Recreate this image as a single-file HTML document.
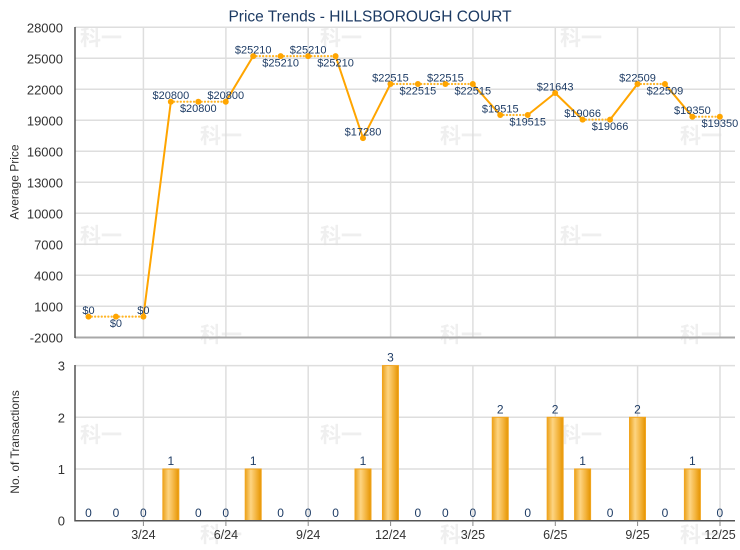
<!DOCTYPE html>
<html><head><meta charset="utf-8"><style>
html,body{margin:0;padding:0;background:#fff;}
svg{display:block;}
text{font-family:"Liberation Sans",Arial,sans-serif;}
.wm{font-family:"Noto Sans CJK SC","WenQuanYi Zen Hei",sans-serif;font-weight:bold;font-size:21px;fill:#efefef;}
.yt{font-size:13px;fill:#333;text-anchor:end;}
.dl{font-size:11px;fill:#1f3d66;text-anchor:middle;}
.bl{font-size:12px;fill:#1f3d66;text-anchor:middle;}
.xl{font-size:12.5px;fill:#333;text-anchor:middle;}
</style></head><body>
<svg width="740" height="550" viewBox="0 0 740 550" xmlns="http://www.w3.org/2000/svg">
<defs>
<linearGradient id="bg" x1="0" y1="0" x2="1" y2="0">
<stop offset="0" stop-color="#eba21c"/>
<stop offset="0.35" stop-color="#fdd482"/>
<stop offset="0.7" stop-color="#f3b33c"/>
<stop offset="1" stop-color="#e59400"/>
</linearGradient>
</defs>
<rect width="740" height="550" fill="#fff"/>
<g id="wm">
<text class="wm" x="80" y="45">科一</text>
<text class="wm" x="320" y="45">科一</text>
<text class="wm" x="560" y="45">科一</text>
<text class="wm" x="200" y="143">科一</text>
<text class="wm" x="440" y="143">科一</text>
<text class="wm" x="680" y="143">科一</text>
<text class="wm" x="80" y="243">科一</text>
<text class="wm" x="320" y="243">科一</text>
<text class="wm" x="560" y="243">科一</text>
<text class="wm" x="200" y="342">科一</text>
<text class="wm" x="440" y="342">科一</text>
<text class="wm" x="680" y="342">科一</text>
<text class="wm" x="80" y="442">科一</text>
<text class="wm" x="320" y="442">科一</text>
<text class="wm" x="560" y="442">科一</text>
<text class="wm" x="200" y="542">科一</text>
<text class="wm" x="440" y="542">科一</text>
<text class="wm" x="680" y="542">科一</text>
</g>
<text x="370" y="21.5" text-anchor="middle" style="font-size:15.5px;fill:#1c3a63">Price Trends - HILLSBOROUGH COURT</text>
<!-- top grid -->
<g stroke="#dedede" stroke-width="1.5" fill="none">
<line x1="75" y1="27.3" x2="735" y2="27.3"/>
<line x1="75" y1="58.3" x2="735" y2="58.3"/>
<line x1="75" y1="89.3" x2="735" y2="89.3"/>
<line x1="75" y1="120.3" x2="735" y2="120.3"/>
<line x1="75" y1="151.3" x2="735" y2="151.3"/>
<line x1="75" y1="182.3" x2="735" y2="182.3"/>
<line x1="75" y1="213.3" x2="735" y2="213.3"/>
<line x1="75" y1="244.3" x2="735" y2="244.3"/>
<line x1="75" y1="275.3" x2="735" y2="275.3"/>
<line x1="75" y1="306.3" x2="735" y2="306.3"/>
<line x1="143.4" y1="27" x2="143.4" y2="337"/>
<line x1="225.9" y1="27" x2="225.9" y2="337"/>
<line x1="308.2" y1="27" x2="308.2" y2="337"/>
<line x1="390.6" y1="27" x2="390.6" y2="337"/>
<line x1="472.9" y1="27" x2="472.9" y2="337"/>
<line x1="555.3" y1="27" x2="555.3" y2="337"/>
<line x1="637.6" y1="27" x2="637.6" y2="337"/>
<line x1="720" y1="27" x2="720" y2="337"/>
</g>
<line x1="75" y1="337.5" x2="735" y2="337.5" stroke="#a8a8a8" stroke-width="2"/>
<line x1="75" y1="27" x2="75" y2="338" stroke="#555" stroke-width="1.5"/>
<g class="yt">
<text class="yt" x="63" y="32.3">28000</text>
<text class="yt" x="63" y="63.3">25000</text>
<text class="yt" x="63" y="94.3">22000</text>
<text class="yt" x="63" y="125.3">19000</text>
<text class="yt" x="63" y="156.3">16000</text>
<text class="yt" x="63" y="187.3">13000</text>
<text class="yt" x="63" y="218.3">10000</text>
<text class="yt" x="63" y="249.3">7000</text>
<text class="yt" x="63" y="280.3">4000</text>
<text class="yt" x="63" y="311.3">1000</text>
<text class="yt" x="63" y="342.3">-2000</text>
</g>
<text transform="translate(18.5,182) rotate(-90)" text-anchor="middle" style="font-size:12px;fill:#333">Average Price</text>
<!-- line series -->
<g fill="none" stroke-linecap="round">
<g stroke="#ffb526" stroke-width="2.2" stroke-dasharray="0.1 3.2">
<line x1="88.5" y1="316.6" x2="115.95" y2="316.6"/>
<line x1="115.95" y1="316.6" x2="143.4" y2="316.6"/>
<line x1="170.85" y1="101.7" x2="198.3" y2="101.7"/>
<line x1="198.3" y1="101.7" x2="225.75" y2="101.7"/>
<line x1="253.2" y1="56.1" x2="280.65" y2="56.1"/>
<line x1="280.65" y1="56.1" x2="308.1" y2="56.1"/>
<line x1="308.1" y1="56.1" x2="335.55" y2="56.1"/>
<line x1="390.45" y1="84" x2="417.9" y2="84"/>
<line x1="417.9" y1="84" x2="445.35" y2="84"/>
<line x1="445.35" y1="84" x2="472.8" y2="84"/>
<line x1="500.25" y1="115" x2="527.7" y2="115"/>
<line x1="582.6" y1="119.6" x2="610.05" y2="119.6"/>
<line x1="637.5" y1="84" x2="664.95" y2="84"/>
<line x1="692.4" y1="116.7" x2="719.85" y2="116.7"/>
</g>
<g stroke="#ffa500" stroke-width="2">
<line x1="143.4" y1="316.6" x2="170.85" y2="101.7"/>
<line x1="225.75" y1="101.7" x2="253.2" y2="56.1"/>
<line x1="335.55" y1="56.1" x2="363" y2="138.1"/>
<line x1="363" y1="138.1" x2="390.45" y2="84"/>
<line x1="472.8" y1="84" x2="500.25" y2="115"/>
<line x1="527.7" y1="115" x2="555.15" y2="93"/>
<line x1="555.15" y1="93" x2="582.6" y2="119.6"/>
<line x1="610.05" y1="119.6" x2="637.5" y2="84"/>
<line x1="664.95" y1="84" x2="692.4" y2="116.7"/>
</g>
</g>
<g fill="#ffa500">
<circle cx="88.5" cy="316.6" r="3"/>
<circle cx="115.95" cy="316.6" r="3"/>
<circle cx="143.4" cy="316.6" r="3"/>
<circle cx="170.85" cy="101.7" r="3"/>
<circle cx="198.3" cy="101.7" r="3"/>
<circle cx="225.75" cy="101.7" r="3"/>
<circle cx="253.2" cy="56.1" r="3"/>
<circle cx="280.65" cy="56.1" r="3"/>
<circle cx="308.1" cy="56.1" r="3"/>
<circle cx="335.55" cy="56.1" r="3"/>
<circle cx="363" cy="138.1" r="3"/>
<circle cx="390.45" cy="84" r="3"/>
<circle cx="417.9" cy="84" r="3"/>
<circle cx="445.35" cy="84" r="3"/>
<circle cx="472.8" cy="84" r="3"/>
<circle cx="500.25" cy="115" r="3"/>
<circle cx="527.7" cy="115" r="3"/>
<circle cx="555.15" cy="93" r="3"/>
<circle cx="582.6" cy="119.6" r="3"/>
<circle cx="610.05" cy="119.6" r="3"/>
<circle cx="637.5" cy="84" r="3"/>
<circle cx="664.95" cy="84" r="3"/>
<circle cx="692.4" cy="116.7" r="3"/>
<circle cx="719.85" cy="116.7" r="3"/>
</g>
<g>
<text class="dl" x="88.5" y="314">$0</text>
<text class="dl" x="115.95" y="327">$0</text>
<text class="dl" x="143.4" y="314">$0</text>
<text class="dl" x="170.85" y="99">$20800</text>
<text class="dl" x="198.3" y="112">$20800</text>
<text class="dl" x="225.75" y="99">$20800</text>
<text class="dl" x="253.2" y="53.5">$25210</text>
<text class="dl" x="280.65" y="66.5">$25210</text>
<text class="dl" x="308.1" y="53.5">$25210</text>
<text class="dl" x="335.55" y="66.5">$25210</text>
<text class="dl" x="363" y="135.5">$17280</text>
<text class="dl" x="390.45" y="81.5">$22515</text>
<text class="dl" x="417.9" y="94.5">$22515</text>
<text class="dl" x="445.35" y="81.5">$22515</text>
<text class="dl" x="472.8" y="94.5">$22515</text>
<text class="dl" x="500.25" y="112.5">$19515</text>
<text class="dl" x="527.7" y="125.5">$19515</text>
<text class="dl" x="555.15" y="90.5">$21643</text>
<text class="dl" x="582.6" y="117">$19066</text>
<text class="dl" x="610.05" y="130">$19066</text>
<text class="dl" x="637.5" y="81.5">$22509</text>
<text class="dl" x="664.95" y="94.5">$22509</text>
<text class="dl" x="692.4" y="114">$19350</text>
<text class="dl" x="719.85" y="127">$19350</text>
</g>
<!-- bottom chart -->
<g stroke="#dedede" stroke-width="1.5" fill="none">
<line x1="75" y1="365.6" x2="735" y2="365.6"/>
<line x1="75" y1="417.3" x2="735" y2="417.3"/>
<line x1="75" y1="469" x2="735" y2="469"/>
<line x1="143.4" y1="365" x2="143.4" y2="521"/>
<line x1="225.9" y1="365" x2="225.9" y2="521"/>
<line x1="308.2" y1="365" x2="308.2" y2="521"/>
<line x1="390.6" y1="365" x2="390.6" y2="521"/>
<line x1="472.9" y1="365" x2="472.9" y2="521"/>
<line x1="555.3" y1="365" x2="555.3" y2="521"/>
<line x1="637.6" y1="365" x2="637.6" y2="521"/>
<line x1="720" y1="365" x2="720" y2="521"/>
</g>
<g fill="url(#bg)" stroke="#f2a51f" stroke-width="1">
<rect x="162.85" y="469" width="16" height="51.7"/>
<rect x="245.2" y="469" width="16" height="51.7"/>
<rect x="355" y="469" width="16" height="51.7"/>
<rect x="382.45" y="365.6" width="16" height="155.1"/>
<rect x="492.25" y="417.3" width="16" height="103.4"/>
<rect x="547.15" y="417.3" width="16" height="103.4"/>
<rect x="574.6" y="469" width="16" height="51.7"/>
<rect x="629.5" y="417.3" width="16" height="103.4"/>
<rect x="684.4" y="469" width="16" height="51.7"/>
</g>
<line x1="75" y1="520.7" x2="735" y2="520.7" stroke="#555" stroke-width="1.5"/>
<line x1="75" y1="365" x2="75" y2="521.5" stroke="#555" stroke-width="1.5"/>
<g stroke="#888" stroke-width="1">
<line x1="143.4" y1="521" x2="143.4" y2="526"/>
<line x1="225.9" y1="521" x2="225.9" y2="526"/>
<line x1="308.2" y1="521" x2="308.2" y2="526"/>
<line x1="390.6" y1="521" x2="390.6" y2="526"/>
<line x1="472.9" y1="521" x2="472.9" y2="526"/>
<line x1="555.3" y1="521" x2="555.3" y2="526"/>
<line x1="637.6" y1="521" x2="637.6" y2="526"/>
<line x1="720" y1="521" x2="720" y2="526"/>
</g>
<g>
<text class="yt" x="65" y="370.6">3</text>
<text class="yt" x="65" y="422.3">2</text>
<text class="yt" x="65" y="474">1</text>
<text class="yt" x="65" y="525.7">0</text>
</g>
<text transform="translate(19,442) rotate(-90)" text-anchor="middle" style="font-size:12px;fill:#333">No. of Transactions</text>
<g>
<text class="bl" x="88.5" y="517">0</text>
<text class="bl" x="115.95" y="517">0</text>
<text class="bl" x="143.4" y="517">0</text>
<text class="bl" x="170.85" y="465">1</text>
<text class="bl" x="198.3" y="517">0</text>
<text class="bl" x="225.75" y="517">0</text>
<text class="bl" x="253.2" y="465">1</text>
<text class="bl" x="280.65" y="517">0</text>
<text class="bl" x="308.1" y="517">0</text>
<text class="bl" x="335.55" y="517">0</text>
<text class="bl" x="363" y="465">1</text>
<text class="bl" x="390.45" y="361.6">3</text>
<text class="bl" x="417.9" y="517">0</text>
<text class="bl" x="445.35" y="517">0</text>
<text class="bl" x="472.8" y="517">0</text>
<text class="bl" x="500.25" y="413.3">2</text>
<text class="bl" x="527.7" y="517">0</text>
<text class="bl" x="555.15" y="413.3">2</text>
<text class="bl" x="582.6" y="465">1</text>
<text class="bl" x="610.05" y="517">0</text>
<text class="bl" x="637.5" y="413.3">2</text>
<text class="bl" x="664.95" y="517">0</text>
<text class="bl" x="692.4" y="465">1</text>
<text class="bl" x="719.85" y="517">0</text>
</g>
<g>
<text class="xl" x="143.4" y="539">3/24</text>
<text class="xl" x="225.9" y="539">6/24</text>
<text class="xl" x="308.2" y="539">9/24</text>
<text class="xl" x="390.6" y="539">12/24</text>
<text class="xl" x="472.9" y="539">3/25</text>
<text class="xl" x="555.3" y="539">6/25</text>
<text class="xl" x="637.6" y="539">9/25</text>
<text class="xl" x="720" y="539">12/25</text>
</g>
</svg>
</body></html>
